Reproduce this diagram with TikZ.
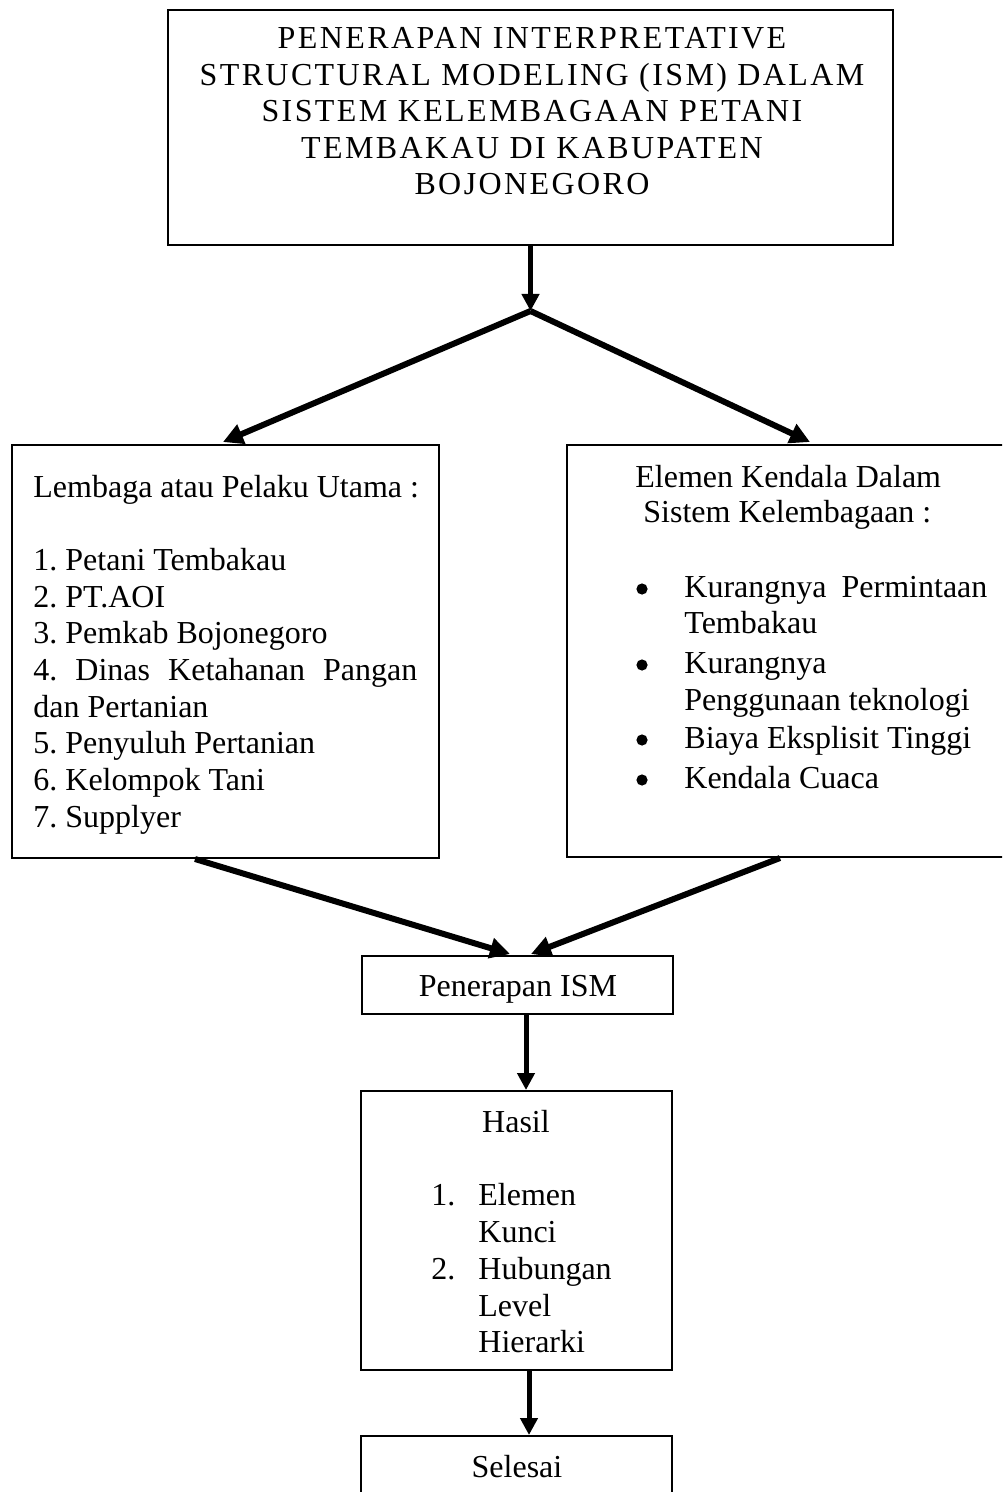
\documentclass[tikz,border=0pt]{standalone}
\usepackage{fontspec}
\setmainfont{Liberation Serif}
\newfontfamily\spacedserif{Liberation Serif}[LetterSpace=7.5]
\usetikzlibrary{arrows.meta,fit}
\newcommand\diagfont{\fontsize{16}{18.35}\selectfont}
\frenchspacing
\begin{document}
\begin{tikzpicture}[x=0.5pt,y=-0.5pt,
  box/.style={draw=black, line width=1pt, inner sep=0pt},
  txt/.style={inner sep=0pt, font=\diagfont},
  ttl/.style={inner sep=0pt, font=\spacedserif\diagfont},
  dot/.style={circle, fill=black, inner sep=0pt, minimum size=5.6pt},
  flowv/.style={line width=2.5pt, -{Triangle[length=8.5pt,width=8.5pt]}},
  flowd/.style={line width=3pt, -{Triangle[length=10pt,width=10pt]}}]
\path[use as bounding box, clip] (0,0) rectangle (1002,1492);
\fill[white] (0,0) rectangle (1002,1492);

% boxes
\node[box, fit={(168,10) (893,245)}] (title) {};
\node[box, fit={(12,445) (439,858)}] (lbox) {};
\node[box, fit={(567,445) (1012,857)}] (rbox) {};
\node[box, fit={(362,956) (673,1014)}] (pbox) {};
\node[box, fit={(361,1091) (672,1370)}] (hbox) {};
\node[box, fit={(361,1436) (672,1530)}] (sbox) {};

% title
\foreach \t [count=\i] in {{PENERAPAN INTERPRETATIVE},{STRUCTURAL MODELING (ISM) DALAM},{SISTEM KELEMBAGAAN PETANI},{TEMBAKAU DI KABUPATEN},{BOJONEGORO}}
  \node[ttl, anchor=base] (title\i) at (532,{49+36.5*(\i-1)}) {\t};

% left box: actors
\node[txt, anchor=base west] (lhead) at (33,497) {Lembaga atau Pelaku Utama :};
\node[txt, anchor=base west] (l1) at (33,570) {1. Petani Tembakau};
\node[txt, anchor=base west] (l2) at (33,607) {2. PT.AOI};
\node[txt, anchor=base west] (l3) at (33,643) {3. Pemkab Bojonegoro};
\node[txt, anchor=base west] (l4) at (33,680) {\makebox[192pt][s]{4. Dinas Ketahanan Pangan}};
\node[txt, anchor=base west] (l4b) at (33,717) {dan Pertanian};
\node[txt, anchor=base west] (l5) at (33,753) {5. Penyuluh Pertanian};
\node[txt, anchor=base west] (l6) at (33,790) {6. Kelompok Tani};
\node[txt, anchor=base west] (l7) at (33,827) {7. Supplyer};

% right box: constraints
\node[txt, anchor=base west] (rhead1) at (635,487) {Elemen Kendala Dalam};
\node[txt, anchor=base west] (rhead2) at (643,522) {Sistem Kelembagaan :};
\foreach \y [count=\i] in {597,673,748,788}
  \node[dot] (rb\i) at (642,\y-8) {};
\node[txt, anchor=base west] (r1) at (684,597) {\makebox[151.5pt][s]{Kurangnya Permintaan}};
\node[txt, anchor=base west] (r1b) at (684,633) {Tembakau};
\node[txt, anchor=base west] (r2) at (684,673) {Kurangnya};
\node[txt, anchor=base west] (r2b) at (684,710) {Penggunaan teknologi};
\node[txt, anchor=base west] (r3) at (684,748) {Biaya Eksplisit Tinggi};
\node[txt, anchor=base west] (r4) at (684,788) {Kendala Cuaca};

% middle and lower boxes
\node[txt, anchor=base] (ptext) at (518,996) {Penerapan ISM};
\node[txt, anchor=base] (htitle) at (516,1132) {Hasil};
\node[txt, anchor=base west] (hn1) at (431,1205) {1.};
\node[txt, anchor=base west] (h1) at (478,1205) {Elemen};
\node[txt, anchor=base west] (h1b) at (478,1242) {Kunci};
\node[txt, anchor=base west] (hn2) at (431,1279) {2.};
\node[txt, anchor=base west] (h2) at (478,1279) {Hubungan};
\node[txt, anchor=base west] (h2b) at (478,1316) {Level};
\node[txt, anchor=base west] (h2c) at (478,1352) {Hierarki};
\node[txt, anchor=base] (stext) at (517,1477) {Selesai};

% connector points
\path (title.south) ++(0,65) coordinate (split);
\path (lbox.north west) ++(212,-2) coordinate (ltip);
\path (rbox.north west) ++(244,-2) coordinate (rtip);
\path (lbox.south west) ++(184,0) coordinate (lfoot);
\path (rbox.south west) ++(214,0) coordinate (rfoot);
\path (pbox.north west) ++(149,-1) coordinate (ptipl);
\path (pbox.north west) ++(170,-1) coordinate (ptipr);
\path (pbox.south west) ++(165,0) coordinate (pout);
\path (hbox.south west) ++(169,0) coordinate (hout);

% connectors
\draw[flowv] (title.south) -- (split);
\draw[flowd] (split) -- (ltip);
\draw[flowd] (split) -- (rtip);
\draw[flowd] (lfoot) -- (ptipl);
\draw[flowd] (rfoot) -- (ptipr);
\draw[flowv] (pout) -- (pout |- hbox.north);
\draw[flowv] (hout) -- (hout |- sbox.north);
\end{tikzpicture}
\end{document}
